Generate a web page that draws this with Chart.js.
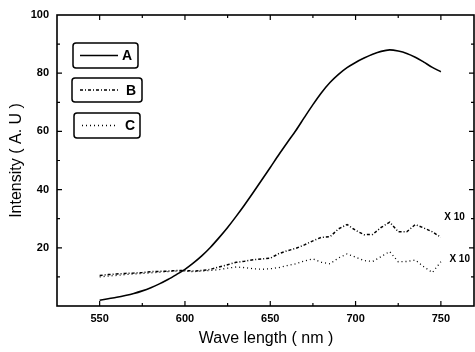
<!DOCTYPE html>
<html>
<head>
<meta charset="utf-8">
<script src="https://cdn.jsdelivr.net/npm/chart.js@4.4.1/dist/chart.umd.min.js"></script>
<style>
	html, body { margin: 0; padding: 0; background: #fff; }
	#wrap { width: 475px; height: 352px; }
</style>
</head>
<body>
<div id="wrap"><canvas id="myChart" width="475" height="352"></canvas></div>
<script>
// wavelength in nm, one reading every 5 nm
var wavelength = [550,555,560,565,570,575,580,585,590,595,600,605,610,615,620,625,630,635,640,645,650,
	655,660,665,670,675,680,685,690,695,700,705,710,715,720,725,730,735,740,745,750];
var intensityA = [2,2.5,3,3.6,4.3,5.2,6.3,7.6,9.1,10.8,12.6,14.8,17.3,20.2,23.5,27,30.8,34.8,39,43.3,47.6,
	52,56.2,60.3,64.8,69.2,73.3,76.8,79.6,81.9,83.7,85.2,86.5,87.5,88,87.6,86.8,85.5,83.8,82,80.5];
// B and C are shown x 10
var intensityB = [10.5,10.8,11,11.2,11.3,11.5,11.8,11.9,12,12.2,12.2,12,12.2,12.6,13.4,14.2,15,15.4,15.9,16.2,16.4,
	18,19,19.8,21,22.4,23.6,23.8,26.5,28,26,24.5,24.6,27,28.8,25.5,25.5,28,26.8,25.5,23.6];
var intensityC = [10,10.3,10.5,10.8,11,11.2,11.4,11.6,11.8,12,12,11.8,12,12.2,12.5,13,13.4,13.2,12.8,12.6,12.8,
	13.2,13.9,14.5,15.5,16.2,15,14.5,16.5,17.9,16.8,15.6,15.3,17,18.7,15.2,15.3,15.8,13.5,11.5,15.2];
var seriesNames = ['A', 'B', 'C'];
var xTicks = [550, 600, 650, 700, 750];
var yTicks = [20, 40, 60, 80, 100];
var scaleNote = 'X 10';

function points(ys) {
	return wavelength.map(function(w, i) { return {x: w, y: ys[i]}; });
}

// box, inward ticks, legend boxes and the x10 notes
var framePlugin = {
	id: 'frame',
	afterDatasetsDraw: function(chart) {
		var ctx = chart.ctx, a = chart.chartArea;
		var xs = chart.scales.x, ys = chart.scales.y;
		var right = a.right - 1;
		ctx.save();
		ctx.strokeStyle = '#000';
		ctx.lineWidth = 1.6;
		ctx.strokeRect(a.left, a.top, right - a.left, a.bottom - a.top);

		ctx.lineWidth = 1.2;
		ctx.beginPath();
		for (var v = 550; v <= 770; v += 25) {
			var px = xs.getPixelForValue(v);
			var len = (v % 50 === 0) ? 5 : 3;
			ctx.moveTo(px, a.bottom); ctx.lineTo(px, a.bottom - len);
			ctx.moveTo(px, a.top); ctx.lineTo(px, a.top + len);
		}
		for (var w = 10; w < 100; w += 10) {
			var py = ys.getPixelForValue(w);
			var l = (w % 20 === 0) ? 5 : 3;
			ctx.moveTo(a.left, py); ctx.lineTo(a.left + l, py);
			ctx.moveTo(right, py); ctx.lineTo(right - l, py);
		}
		ctx.stroke();

		// legend boxes
		var boxes = [
			{x: 73, y: 43, w: 65, h: 25, x1: 80, x2: 118, tx: 127},
			{x: 72, y: 78, w: 70, h: 24, x1: 80, x2: 119, tx: 131},
			{x: 74, y: 113, w: 66, h: 25, x1: 82, x2: 118, tx: 130}
		];
		ctx.font = 'bold 14px "Liberation Sans", Arial, sans-serif';
		ctx.textAlign = 'center';
		ctx.textBaseline = 'middle';
		ctx.fillStyle = '#000';
		boxes.forEach(function(b, i) {
			var ds = chart.data.datasets[i];
			var cy = b.y + b.h / 2;
			ctx.setLineDash([]);
			ctx.lineWidth = 1.5;
			ctx.beginPath();
			ctx.roundRect(b.x, b.y, b.w, b.h, 3);
			ctx.stroke();
			ctx.lineWidth = ds.borderWidth;
			ctx.setLineDash(ds.borderDash || []);
			ctx.beginPath();
			ctx.moveTo(b.x1, cy); ctx.lineTo(b.x2, cy);
			ctx.stroke();
			ctx.fillText(seriesNames[i], b.tx, cy + 1);
		});
		ctx.setLineDash([]);

		ctx.font = 'bold 10px "Liberation Sans", Arial, sans-serif';
		ctx.textAlign = 'left';
		ctx.fillText(scaleNote, xs.getPixelForValue(752), ys.getPixelForValue(30.5));
		ctx.fillText(scaleNote, xs.getPixelForValue(755), ys.getPixelForValue(16.2));
		ctx.restore();
	}
};

var ctx = document.getElementById('myChart').getContext('2d');
var myChart = new Chart(ctx, {
	type: 'line',
	data: {
		datasets: [{
			label: seriesNames[0],
			data: points(intensityA),
			borderColor: '#000',
			borderWidth: 1.6,
			pointRadius: 0,
			tension: 0.3
		}, {
			label: seriesNames[1],
			data: points(intensityB),
			borderColor: '#000',
			borderWidth: 1.5,
			borderDash: [3, 2, 1, 2],
			pointRadius: 0,
			tension: 0
		}, {
			label: seriesNames[2],
			data: points(intensityC),
			borderColor: '#000',
			borderWidth: 1.3,
			borderDash: [1, 3],
			pointRadius: 0,
			tension: 0
		}]
	},
	options: {
		responsive: false,
		animation: false,
		layout: { padding: { top: 15, right: 0, left: 0, bottom: 0 } },
		plugins: {
			legend: { display: false },
			tooltip: { enabled: false }
		},
		scales: {
			x: {
				type: 'linear',
				min: 525,
				max: 770,
				afterBuildTicks: function(scale) {
					scale.ticks = xTicks.map(function(v) { return {value: v}; });
				},
				afterFit: function(scale) { scale.height = 46; },
				grid: { display: false, drawTicks: false },
				border: { display: false },
				ticks: {
					padding: 6,
					color: '#000',
					maxRotation: 0,
					font: { family: '"Liberation Sans", Arial, sans-serif', size: 11, weight: 'bold' }
				},
				title: {
					display: true,
					text: 'Wave length ( nm )',
					color: '#000',
					padding: { top: 0, bottom: 4 },
					font: { family: '"Liberation Sans", Arial, sans-serif', size: 16 }
				}
			},
			y: {
				min: 0,
				max: 100,
				afterBuildTicks: function(scale) {
					scale.ticks = yTicks.map(function(v) { return {value: v}; });
				},
				afterFit: function(scale) { scale.width = 57; },
				grid: { display: false, drawTicks: false },
				border: { display: false },
				ticks: {
					padding: 8,
					color: '#000',
					font: { family: '"Liberation Sans", Arial, sans-serif', size: 11, weight: 'bold' }
				},
				title: {
					display: true,
					text: 'Intensity ( A. U )',
					color: '#000',
					padding: { top: 7, bottom: 0 },
					font: { family: '"Liberation Sans", Arial, sans-serif', size: 16 }
				}
			}
		}
	},
	plugins: [framePlugin]
});
</script>
</body>
</html>
